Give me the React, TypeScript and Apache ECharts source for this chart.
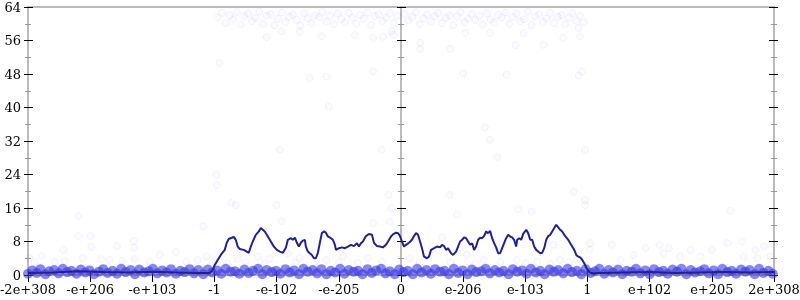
import React, { useEffect, useRef } from 'react';
import * as echarts from 'echarts';

const xTickLabels = ['-2e+308', '-e+206', '-e+103', '-1', '-e-102', '-e-205', '0', 'e-206', 'e-103', '1', 'e+102', 'e+205', '2e+308'];
const xMin = -6;
const xMax = 6;
const yMin = 0;
const yMax = 64;
const yStep = 8;

// averaged error line [x, bits]
const linePoints: number[][] = [
  [-6, 0.5], [-5.6, 0.6], [-5.2, 0.9], [-4.8, 0.7], [-4.4, 0.6], [-4.0, 0.8], [-3.6, 0.6], [-3.3, 0.5], [-3.08, 0.5],
  [-3.028, 1.2], [-2.996, 2.4], [-2.948, 3.6], [-2.899, 4.8], [-2.835, 6.0], [-2.803, 7.7], [-2.771, 8.6], [-2.722, 8.9],
  [-2.69, 9.1], [-2.658, 8.4], [-2.626, 6.8], [-2.593, 6.2], [-2.529, 6.0], [-2.481, 5.6], [-2.448, 5.3], [-2.416, 6.8],
  [-2.384, 8.0], [-2.336, 9.6], [-2.287, 10.4], [-2.255, 11.2], [-2.223, 10.8], [-2.191, 10.4], [-2.142, 9.2], [-2.094, 8.0],
  [-2.046, 6.8], [-1.997, 6.0], [-1.949, 5.6], [-1.901, 5.3], [-1.852, 6.5], [-1.82, 8.4], [-1.772, 8.8], [-1.74, 8.4],
  [-1.707, 8.9], [-1.675, 7.7], [-1.643, 6.8], [-1.611, 7.7], [-1.579, 8.2], [-1.546, 8.4], [-1.53, 6.8], [-1.498, 5.6],
  [-1.466, 5.2], [-1.434, 4.8], [-1.401, 4.0], [-1.369, 4.0], [-1.337, 5.3], [-1.305, 7.7], [-1.273, 10.0], [-1.24, 10.4],
  [-1.208, 10.1], [-1.176, 9.2], [-1.128, 8.8], [-1.095, 8.4], [-1.063, 7.2], [-1.047, 6.0], [-0.999, 6.4], [-0.95, 6.6],
  [-0.902, 6.4], [-0.854, 6.8], [-0.805, 7.2], [-0.757, 6.9], [-0.709, 7.6], [-0.677, 6.8], [-0.644, 7.6], [-0.612, 8.0],
  [-0.564, 9.3], [-0.515, 9.8], [-0.467, 9.6], [-0.435, 7.7], [-0.387, 6.9], [-0.338, 6.8], [-0.29, 6.6], [-0.242, 7.2],
  [-0.209, 8.0], [-0.161, 9.2], [-0.129, 9.7], [-0.081, 10.1], [-0.048, 10.0], [-0.016, 9.3], [0.016, 8.0], [0.048, 6.8],
  [0.081, 7.2], [0.129, 7.7], [0.177, 8.4], [0.209, 9.3], [0.242, 10.0], [0.274, 9.6], [0.306, 8.0], [0.338, 6.4],
  [0.37, 4.4], [0.419, 4.0], [0.451, 4.4], [0.483, 6.0], [0.532, 6.4], [0.58, 6.8], [0.628, 6.6], [0.66, 7.2],
  [0.693, 6.9], [0.725, 6.0], [0.757, 6.4], [0.805, 5.2], [0.838, 4.8], [0.886, 5.6], [0.918, 6.8], [0.95, 8.0],
  [0.983, 8.4], [1.015, 9.0], [1.047, 8.8], [1.079, 8.0], [1.111, 7.2], [1.144, 7.6], [1.176, 6.0], [1.208, 6.8],
  [1.24, 8.4], [1.273, 8.9], [1.305, 8.8], [1.337, 9.3], [1.369, 10.4], [1.401, 10.0], [1.434, 10.5], [1.466, 8.8],
  [1.498, 7.6], [1.53, 6.6], [1.563, 5.2], [1.595, 5.2], [1.627, 6.4], [1.659, 7.6], [1.691, 8.8], [1.724, 9.6],
  [1.756, 9.2], [1.788, 9.0], [1.82, 8.4], [1.852, 6.8], [1.869, 8.4], [1.901, 8.8], [1.933, 8.4], [1.965, 9.8],
  [2.014, 10.8], [2.046, 10.0], [2.078, 8.4], [2.11, 8.4], [2.142, 6.8], [2.175, 6.0], [2.207, 5.6], [2.239, 5.2],
  [2.271, 5.3], [2.303, 6.4], [2.336, 8.4], [2.368, 9.3], [2.4, 9.6], [2.432, 10.4], [2.465, 11.2], [2.497, 12.0],
  [2.529, 11.4], [2.561, 10.8], [2.593, 10.4], [2.626, 9.6], [2.658, 9.0], [2.69, 8.4], [2.722, 7.6], [2.754, 6.8],
  [2.787, 6.0], [2.819, 4.8], [2.851, 4.4], [2.883, 4.2], [2.916, 3.6], [2.948, 2.8], [2.98, 1.8], [3.012, 1.0],
  [3.044, 0.55], [3.093, 0.4], [3.2, 0.5], [3.6, 0.6], [4.0, 0.7], [4.4, 0.5], [4.8, 0.6], [5.2, 0.7], [5.6, 0.6], [6, 0.7],
];

// dense band of samples with low error
const bandPoints: number[][] = [
  [-6.0, 0.3], [-5.93, 1.1], [-5.86, 0.5], [-5.8, 1.4], [-5.72, 0.2], [-5.66, 0.9], [-5.58, 1.2], [-5.51, 0.4], [-5.44, 1.5],
  [-5.37, 0.7], [-5.3, 1.0], [-5.22, 0.3], [-5.15, 1.3], [-5.08, 0.6], [-5.01, 1.1], [-4.94, 0.2], [-4.86, 0.8], [-4.79, 1.4],
  [-4.72, 0.5], [-4.64, 1.0], [-4.57, 0.3], [-4.5, 1.5], [-4.43, 0.7], [-4.35, 1.2], [-4.28, 0.2], [-4.21, 1.3], [-4.13, 0.6],
  [-4.06, 0.9], [-3.99, 1.5], [-3.92, 0.4], [-3.84, 1.1], [-3.77, 0.6], [-3.7, 1.4], [-3.62, 0.3], [-3.55, 1.0], [-3.48, 0.7],
  [-3.4, 1.4], [-3.33, 0.4], [-3.26, 1.2], [-3.18, 0.2], [-3.11, 1.3], [-3.04, 0.6], [-2.96, 1.1], [-2.89, 0.3], [-2.82, 1.5],
  [-2.74, 0.8], [-2.67, 0.9], [-2.6, 0.3], [-2.52, 1.3], [-2.45, 0.5], [-2.38, 1.0], [-2.3, 1.5], [-2.23, 0.2], [-2.16, 1.2],
  [-2.08, 0.7], [-2.01, 1.0], [-1.94, 0.3], [-1.86, 1.4], [-1.79, 0.6], [-1.72, 1.1], [-1.64, 0.2], [-1.57, 1.5], [-1.5, 0.8],
  [-1.42, 1.2], [-1.35, 0.4], [-1.28, 1.4], [-1.2, 0.2], [-1.13, 1.0], [-1.06, 0.6], [-0.98, 1.5], [-0.91, 0.3], [-0.84, 1.2],
  [-0.76, 0.8], [-0.69, 1.0], [-0.62, 0.2], [-0.54, 1.4], [-0.47, 0.5], [-0.4, 1.1], [-0.32, 1.5], [-0.25, 0.4], [-0.18, 0.9],
  [-0.1, 0.2], [-0.03, 1.3], [0.04, 0.7], [0.11, 1.0], [0.19, 0.2], [0.26, 1.5], [0.33, 0.6], [0.41, 1.2], [0.48, 0.3],
  [0.55, 1.4], [0.63, 0.8], [0.7, 1.0], [0.77, 0.2], [0.85, 1.5], [0.92, 0.5], [0.99, 1.1], [1.07, 0.2], [1.14, 1.3],
  [1.21, 0.7], [1.29, 0.9], [1.36, 1.5], [1.43, 0.4], [1.51, 1.2], [1.58, 0.6], [1.65, 1.0], [1.73, 0.2], [1.8, 1.4],
  [1.87, 0.8], [1.95, 1.1], [2.02, 0.3], [2.09, 1.5], [2.17, 0.6], [2.24, 1.0], [2.31, 0.2], [2.39, 1.3], [2.46, 0.8],
  [2.53, 1.2], [2.61, 0.4], [2.68, 1.5], [2.75, 0.7], [2.83, 1.0], [2.9, 0.2], [2.97, 1.4], [3.05, 0.5], [3.12, 0.9],
  [3.19, 1.5], [3.27, 0.3], [3.34, 1.2], [3.41, 0.6], [3.49, 1.3], [3.56, 0.2], [3.63, 1.0], [3.71, 0.8], [3.78, 1.5],
  [3.85, 0.4], [3.93, 1.1], [4.0, 0.2], [4.07, 1.4], [4.15, 0.7], [4.22, 1.0], [4.29, 0.3], [4.37, 1.3], [4.44, 0.8],
  [4.51, 1.5], [4.59, 0.2], [4.66, 1.2], [4.73, 0.6], [4.81, 0.9], [4.88, 1.4], [4.95, 0.4], [5.03, 1.1], [5.1, 0.2],
  [5.17, 1.5], [5.25, 0.7], [5.32, 1.0], [5.39, 0.3], [5.47, 1.3], [5.54, 0.8], [5.61, 1.2], [5.69, 0.2], [5.76, 1.5],
  [5.83, 0.5], [5.91, 1.0], [5.98, 0.3],
];

// scattered samples above the band
const sparsePoints: number[][] = [
  [-5.98, 4.1], [-5.9, 3.1], [-5.78, 4.5], [-5.57, 3.1], [-5.43, 6.0], [-5.41, 3.3], [-5.19, 14.1], [-5.19, 9.3], [-5.12, 4.1],
  [-5.0, 9.3], [-4.98, 6.7], [-4.82, 3.8], [-4.69, 3.6], [-4.57, 6.9], [-4.48, 3.3], [-4.3, 8.1], [-4.29, 6.5], [-4.28, 3.8],
  [-4.04, 3.1], [-3.88, 4.8], [-3.62, 5.5], [-3.45, 3.1], [-3.27, 3.6], [-3.18, 11.6], [-3.13, 4.4], [-3.03, 2.9],
  [-2.97, 23.9], [-2.96, 21.5], [-2.73, 17.2], [-2.66, 16.7], [-2.62, 3.8], [-2.3, 4.4], [-2.11, 4.0], [-2.0, 16.7],
  [-1.95, 29.9], [-1.92, 12.9], [-1.82, 5.2], [-1.63, 4.0], [-1.2, 3.6], [-1.16, 40.2], [-0.93, 4.5], [-0.53, 4.0],
  [-0.45, 12.4], [-0.31, 29.9], [-0.2, 19.1], [-0.18, 12.7], [-0.15, 16.0], [0.04, 10.4], [0.14, 4.0], [0.49, 6.8],
  [0.66, 9.0], [0.78, 19.1], [0.9, 14.4], [1.06, 4.8], [1.33, 3.6], [1.35, 35.2], [1.43, 32.3], [1.54, 6.4], [1.55, 28.2],
  [1.86, 3.6], [1.89, 15.7], [2.1, 15.1], [2.19, 3.2], [2.45, 7.2], [2.56, 3.6], [2.78, 19.9], [2.83, 3.6], [2.96, 17.9],
  [2.96, 16.7], [2.96, 29.9], [3.04, 7.6], [3.04, 6.0],
  [-2.8, 2.8], [-2.5, 3.0], [-2.2, 2.7], [-1.7, 3.0], [-1.4, 2.6], [-1.0, 3.1], [-0.7, 2.8], [-0.3, 3.2], [0.3, 2.9],
  [0.8, 3.0], [1.2, 2.7], [1.6, 3.1], [2.0, 2.8], [2.4, 2.6], [2.7, 3.0],
  [3.39, 7.2], [3.53, 3.6], [3.74, 4.8], [3.93, 6.4], [4.16, 7.2], [4.22, 5.2], [4.31, 6.4], [4.49, 4.4], [4.66, 6.0],
  [4.82, 4.4], [5.0, 6.0], [5.25, 7.6], [5.3, 15.3], [5.49, 8.0], [5.51, 4.4], [5.7, 6.0], [5.73, 4.0], [5.84, 6.8], [5.94, 4.4],
  [-2.92, 50.6], [-2.16, 56.8], [-1.92, 58.2], [-1.63, 58.1], [-1.47, 47.0], [-1.28, 57.0], [-1.2, 47.4], [-0.74, 57.3],
  [-0.45, 56.6], [-0.45, 48.6], [-0.29, 56.9], [-0.15, 58.2], [-0.12, 57.4], [0.31, 55.4], [0.31, 54.0], [0.79, 54.0],
  [1.0, 48.2], [1.03, 57.8], [1.43, 57.8], [1.7, 47.8], [1.84, 54.9], [1.97, 57.8], [2.29, 55.0], [2.61, 56.6], [2.86, 59.0],
  [2.86, 47.6], [2.88, 57.0], [2.91, 48.6],
];

// samples with near-total error
const topPoints: number[][] = [
  [-2.95, 61.5], [-2.88, 62.6], [-2.82, 60.2], [-2.76, 62.0], [-2.7, 61.0], [-2.64, 62.8], [-2.58, 59.8], [-2.52, 61.8],
  [-2.46, 62.4], [-2.4, 60.6], [-2.34, 61.4], [-2.28, 62.9], [-2.22, 60.0], [-2.16, 61.9], [-2.1, 62.3], [-2.04, 59.6],
  [-1.98, 61.2], [-1.92, 62.7], [-1.86, 60.4], [-1.8, 61.7], [-1.74, 62.2], [-1.68, 60.9], [-1.62, 59.5], [-1.56, 62.5],
  [-1.5, 61.3], [-1.44, 60.1], [-1.38, 62.0], [-1.32, 61.6], [-1.26, 62.8], [-1.2, 60.5], [-1.14, 61.9], [-1.08, 59.9],
  [-1.02, 62.4], [-0.96, 61.1], [-0.9, 60.3], [-0.84, 62.6], [-0.78, 61.5], [-0.72, 60.0], [-0.66, 62.1], [-0.6, 61.2],
  [-0.54, 62.7], [-0.48, 59.7], [-0.42, 61.8], [-0.36, 62.3], [-0.3, 60.7], [-0.24, 61.4], [-0.18, 62.5], [-0.12, 60.2],
  [-0.06, 61.9], [0.06, 62.4], [0.12, 60.8], [0.18, 61.6], [0.24, 62.7], [0.3, 59.9], [0.36, 61.3], [0.42, 62.2],
  [0.48, 60.5], [0.54, 61.8], [0.6, 62.6], [0.66, 60.1], [0.72, 61.4], [0.78, 62.0], [0.84, 59.6], [0.9, 61.7],
  [0.96, 62.8], [1.02, 60.4], [1.08, 61.2], [1.14, 62.3], [1.2, 60.9], [1.26, 61.9], [1.32, 59.8], [1.38, 62.5],
  [1.44, 61.0], [1.5, 60.3], [1.56, 62.1], [1.62, 61.5], [1.68, 62.7], [1.74, 60.0], [1.8, 61.6], [1.86, 62.4],
  [1.92, 60.6], [1.98, 61.1], [2.04, 62.9], [2.1, 59.7], [2.16, 61.8], [2.22, 62.2], [2.28, 60.4], [2.34, 61.3],
  [2.4, 62.6], [2.46, 60.1], [2.52, 61.7], [2.58, 62.0], [2.64, 59.9], [2.7, 61.4], [2.76, 62.5], [2.82, 60.7],
  [2.88, 61.9], [2.94, 60.3],
];

const FONT = "'DejaVu Serif', serif";
const GREY = '#bbbbbb';
const MINOR = '#999999';

function yAxisDef(position: 'left' | 'right', inside: boolean, opts: any = {}) {
  return {
    type: 'value',
    min: yMin,
    max: yMax,
    interval: yStep,
    position,
    axisLine: { show: !inside, onZero: false, lineStyle: { color: GREY, width: 2 } },
    axisTick: { show: true, inside, length: inside ? 5 : 4, lineStyle: { color: '#000', width: 1 } },
    minorTick: { show: true, splitNumber: 2, length: 3, lineStyle: { color: MINOR, width: 1 } },
    axisLabel: { show: false },
    splitLine: { show: false },
    minorSplitLine: { show: false },
    ...opts,
  };
}

export default function App() {
  const ref = useRef<HTMLDivElement>(null);
  useEffect(() => {
    if (!ref.current) return;
    const chart = echarts.init(ref.current, undefined, { renderer: 'svg' });
    const faint = {
      color: 'rgba(70,70,255,0.035)',
      borderColor: 'rgba(70,70,255,0.08)',
      borderWidth: 1,
    };
    chart.setOption({
      animation: false,
      grid: { left: 28, right: 26, top: 7, bottom: 25, containLabel: false, outerBoundsMode: 'none' },
      xAxis: [
        {
          type: 'value', min: xMin, max: xMax, interval: 1, position: 'bottom',
          axisLine: { show: true, onZero: false, lineStyle: { color: GREY, width: 2 } },
          axisTick: { show: true, length: 7, lineStyle: { color: '#000', width: 1 } },
          axisLabel: {
            formatter: (v: number) => xTickLabels[Math.round(v) - xMin] ?? '',
            color: '#000', fontFamily: FONT, fontSize: 13, margin: 8,
          },
          splitLine: { show: false },
        },
        {
          type: 'value', min: xMin, max: xMax, interval: 1, position: 'bottom',
          axisLine: { show: false, onZero: false },
          axisTick: { show: true, inside: true, length: 4, lineStyle: { color: '#000', width: 1 } },
          axisLabel: { show: false },
          splitLine: { show: false },
        },
        {
          type: 'value', min: xMin, max: xMax, interval: 1, position: 'top',
          axisLine: { show: true, onZero: false, lineStyle: { color: GREY, width: 2 } },
          axisTick: { show: false },
          axisLabel: { show: false },
          splitLine: { show: false },
        },
      ],
      yAxis: [
        yAxisDef('left', false, {
          axisLabel: { show: true, color: '#000', fontFamily: FONT, fontSize: 13, margin: 7 },
        }),
        yAxisDef('left', true),
        yAxisDef('right', false),
        yAxisDef('right', true),
        yAxisDef('left', false, {
          axisLine: { show: true, onZero: true, onZeroAxisIndex: 0, lineStyle: { color: GREY, width: 2 } },
        }),
        yAxisDef('left', true, {
          axisLine: { show: false, onZero: true, onZeroAxisIndex: 0 },
        }),
      ],
      series: [
        {
          type: 'scatter', data: topPoints, symbol: 'circle', symbolSize: 7, silent: true,
          itemStyle: faint, z: 1,
        },
        {
          type: 'scatter', data: sparsePoints, symbol: 'circle', symbolSize: 7, silent: true,
          itemStyle: faint, z: 1,
        },
        {
          type: 'scatter', data: bandPoints, symbol: 'circle', symbolSize: 10, silent: true,
          itemStyle: { color: 'rgba(55,55,225,0.6)', borderWidth: 0, opacity: 1 }, z: 2,
        },
        {
          type: 'line', data: linePoints, showSymbol: false, silent: true,
          lineStyle: { color: '#22228c', width: 2 }, z: 3,
        },
      ],
    });
    return () => chart.dispose();
  }, []);
  return <div ref={ref} style={{ position: 'fixed', left: 0, top: 0, width: 800, height: 300 }} />;
}
